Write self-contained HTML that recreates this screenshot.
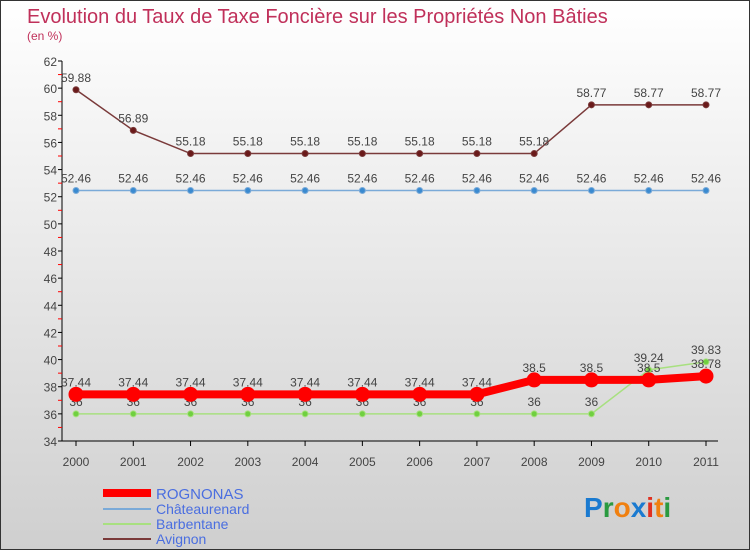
<!DOCTYPE html>
<html><head><meta charset="utf-8"><style>
body{margin:0}
#c{width:750px;height:550px;position:relative;box-sizing:border-box;border:1px solid #333;background:linear-gradient(#fff,#cfcfcf);font-family:"Liberation Sans",sans-serif;overflow:hidden}
</style></head><body>
<div id="c">
<svg id="s" width="748" height="548" style="position:absolute;left:0;top:0">
<text x="26" y="22" font-size="20" fill="#c0305a">Evolution du Taux de Taxe Foncière sur les Propriétés Non Bâties</text>
<text x="26" y="39" font-size="12" fill="#c0305a">(en %)</text>
<g id="axes"></g><g id="series"></g>
<g>
<line x1="102" y1="492" x2="150" y2="492" stroke="#f00" stroke-width="8"/>
<text x="155" y="498" font-size="15" fill="#4a6ee0">ROGNONAS</text>
<line x1="102" y1="508" x2="150" y2="508" stroke="#7aaad8" stroke-width="2"/>
<text x="155" y="513" font-size="14" fill="#4a6ee0">Châteaurenard</text>
<line x1="102" y1="523" x2="150" y2="523" stroke="#a8e080" stroke-width="2"/>
<text x="155" y="528" font-size="14" fill="#4a6ee0">Barbentane</text>
<line x1="102" y1="538" x2="150" y2="538" stroke="#7a3a3a" stroke-width="2"/>
<text x="155" y="543" font-size="14" fill="#4a6ee0">Avignon</text>
</g>
<text x="583" y="516" font-size="28" font-weight="bold"><tspan fill="#1a7ad0">P</tspan><tspan fill="#2a9a40">r</tspan><tspan fill="#f08010">o</tspan><tspan fill="#1a7ad0">x</tspan><tspan fill="#e03020">i</tspan><tspan fill="#f08010">t</tspan><tspan fill="#2a9a40">i</tspan></text>
</svg>
</div>
<script>
const years=["2000","2001","2002","2003","2004","2005","2006","2007","2008","2009","2010","2011"];
const yTicks=[34,36,38,40,42,44,46,48,50,52,54,56,58,60,62];
const rognonas=[37.44,37.44,37.44,37.44,37.44,37.44,37.44,37.44,38.5,38.5,38.5,38.78];
const chateaurenard=[52.46,52.46,52.46,52.46,52.46,52.46,52.46,52.46,52.46,52.46,52.46,52.46];
const barbentane=[36,36,36,36,36,36,36,36,36,36,39.24,39.83];
const avignon=[59.88,56.89,55.18,55.18,55.18,55.18,55.18,55.18,55.18,58.77,58.77,58.77];
const NS="http://www.w3.org/2000/svg";
const X=i=>75+i*(630/11);
const Y=v=>440-(v-34)*(380/28);
function mk(t,a,p){const e=document.createElementNS(NS,t);for(const k in a)e.setAttribute(k,a[k]);p.appendChild(e);return e;}
const ax=document.getElementById('axes');
let yl=mk('line',{x1:61,y1:60,x2:61,y2:440,stroke:'#000'},ax);


let xl=mk('line',{x1:61,y1:440,x2:717,y2:440,stroke:'#000'},ax);


yTicks.forEach(v=>{
 mk('line',{x1:57,y1:Y(v),x2:61,y2:Y(v),stroke:'#000'},ax);
 if(v<62)mk('line',{x1:57,y1:Y(v+1),x2:61,y2:Y(v+1),stroke:'#f00'},ax);
 const t=mk('text',{x:56,y:Y(v)+5,'font-size':12,'text-anchor':'end',fill:'#444'},ax);
 t.textContent=v;
 
 
});
years.forEach((y,i)=>{
 mk('line',{x1:X(i),y1:440,x2:X(i),y2:445,stroke:'#000'},ax);
 const t=mk('text',{x:X(i),y:465,'font-size':12,'text-anchor':'middle',fill:'#444'},ax);
 t.textContent=y;
 
 
});
const sg=document.getElementById('series');
function draw(name,data,color,lw,r,dot){
 const g=mk('g',{},sg);
 
 
 const p=mk('polyline',{points:data.map((v,i)=>X(i)+','+Y(v)).join(' '),fill:'none',stroke:color,'stroke-width':lw},g);
 
 
 data.forEach((v,i)=>{
  const c=mk('circle',{cx:X(i),cy:Y(v),r:r,fill:dot,stroke:color,'stroke-width':1},g);
  
  
  const t=mk('text',{x:X(i),y:Y(v)-8,'font-size':12,'text-anchor':'middle',fill:'#444'},g);
  t.textContent=v;
  
  
 });
}
draw('chateaurenard',chateaurenard,'#7aaad8',1.5,3,'#3a8ad0');
draw('avignon',avignon,'#7a3a3a',1.5,3,'#6a1a1a');
draw('barbentane',barbentane,'#a8e080',1.5,3,'#70d040');
draw('rognonas',rognonas,'#f00',8,7,'#f00');
</script>
</body></html>
